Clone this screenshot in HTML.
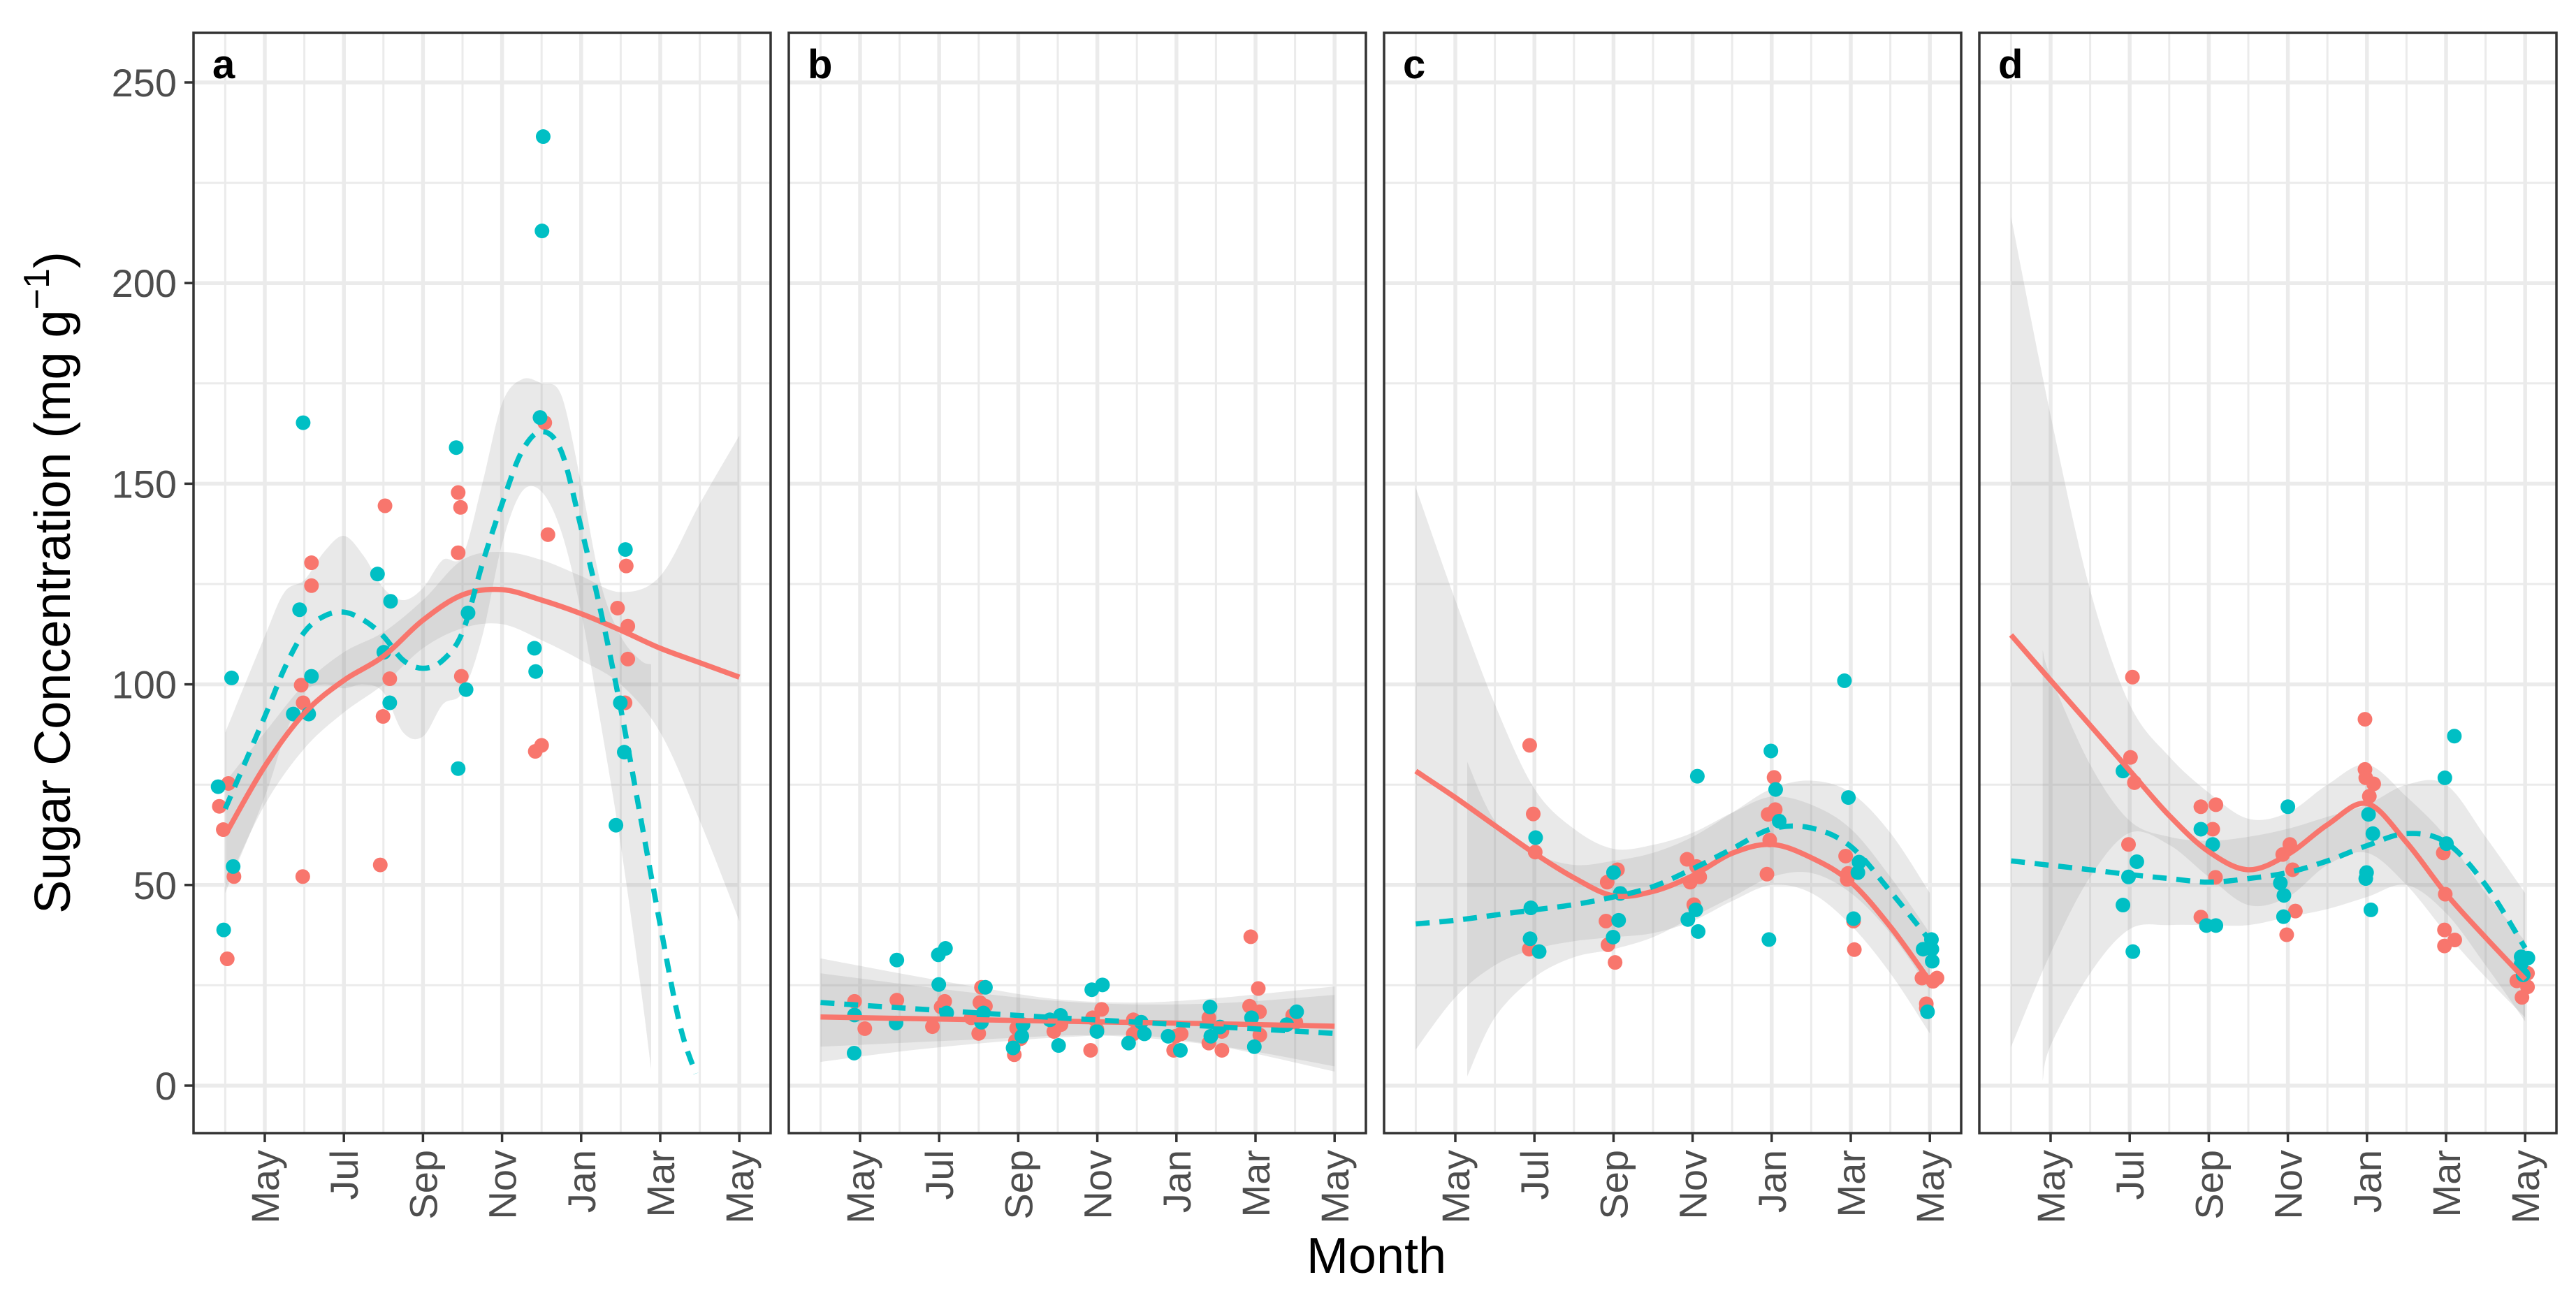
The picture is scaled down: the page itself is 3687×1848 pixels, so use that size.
<!DOCTYPE html>
<html><head><meta charset="utf-8"><title>Sugar Concentration by Month</title>
<style>
html,body{margin:0;padding:0;background:#fff;}
svg{display:block;font-family:"Liberation Sans",Arial,sans-serif;}
</style></head>
<body>
<svg id="chart" width="3687" height="1848" viewBox="0 0 3687 1848" xmlns="http://www.w3.org/2000/svg">
<rect x="0" y="0" width="3687" height="1848" fill="#fff"/>
<text transform="translate(100,834) rotate(-90)" text-anchor="middle" font-size="72" fill="#000">Sugar Concentration (mg g<tspan dy="-30" font-size="52">−1</tspan><tspan dy="30">)</tspan></text>
<text x="1970" y="1822" text-anchor="middle" font-size="72" fill="#000">Month</text>
</svg>
<script>
// ---- shared axes ----
const monthTicks = [0,2,4,6,8,10,12];
const monthTickLabels = ["May","Jul","Sep","Nov","Jan","Mar","May"];
const minorMonths = [-1,1,3,5,7,9,11];
const yTicks = [0,50,100,150,200,250];
const yMinor = [25,75,125,175,225];
const panelLabels = ["a","b","c","d"];

// ---- panel a ----
const aRedX = [-1.15,-1.05,-0.92,-0.95,-0.78,0.92,0.97,1.18,1.18,0.96,2.92,2.99,3.04,3.16,4.89,4.95,4.89,4.97,6.84,7.0,7.08,7.16,8.92,9.14,9.18,9.18,9.11];
const aRedY = [69.6,63.8,75.3,31.6,52.1,99.8,95.4,124.6,130.3,52.1,55,92,144.5,101.4,147.8,144.1,132.8,102,83.3,84.8,165.2,137.3,119,129.5,114.5,106.3,95.4];
const aCyanX = [-1.18,-1.04,-0.84,-0.8,0.72,1.11,0.88,0.97,1.18,2.85,3.01,3.16,3.18,4.84,4.89,5.14,5.09,6.82,6.85,6.96,7.01,7.04,8.88,9.12,9.09,8.99];
const aCyanY = [74.5,38.8,101.6,54.6,92.6,92.6,118.6,165.2,102,127.5,108,95.4,120.7,159,79,117.8,98.7,109,103.2,166.5,213,236.5,64.9,133.6,83.1,95.4];
const aRedFitX = [-0.97,0,1,2,3,4,5,6,7,8,9,10,11,12];
const aRedFitY = [63,79.6,92.8,101,107,116,122.3,123.6,121,117.6,113.5,109,105.4,101.8];
const aRedBandX = [-0.97,0,1,2,3,4,5,6,7,8,9,10,11,12];
const aRedBandHi = [76,88,100,108,113,121,131,133,131,127,123,127,145,162];
const aRedBandLo = [50,70,84,93,100,109,114,115,111,106,100,88,66,41];
const aCyanFitX = [-1,0,0.5,1,1.5,2,2.5,3,3.5,4,4.5,5,5.5,6,6.5,7,7.5,8,8.5,9,9.5,10,10.5,10.9];
const aCyanFitY = [69,92,104,113,117,118,116,112,106,104,106,113,130,145,158,163,158,139,118,94,67,40,15,3];
const aCyanBandX = [-1,0,0.5,1,1.5,2,2.5,3,3.5,4,4.5,5,5.5,6,6.5,7,7.5,8,8.5,9,9.5,9.77];
const aCyanBandHi = [88,112,123,126,133,137,132,124,121,124,131,132,150,170,176,175,172,150,125,112,106,105];
const aCyanBandLo = [48,72,87,98,100,99,100,98,88,87,95,98,112,135,148,148,138,118,90,60,25,4];

// ---- panel b ----
const bRedX = [-0.14,0.12,0.93,1.83,2.05,2.14,3.07,3.03,3.17,2.81,3.0,3.96,3.93,3.9,4.06,4.9,5.08,5.83,5.99,6.11,5.88,6.91,6.91,7.98,7.93,8.12,8.82,8.82,9.15,9.15,9.88,10.07,9.85,10.1,10.11,10.94,11.02];
const bRedY = [21,14.2,21.3,14.7,19.6,21,24.5,20.7,19.8,16.9,13,14.3,11.1,7.7,11.7,13.5,15.2,8.8,14,19,16.9,16.4,12.9,12.3,8.8,12.9,16.9,10.6,13.5,8.8,37.1,24.2,19.8,18.4,12.6,17.5,15.8];
const bCyanX = [-0.14,-0.15,0.93,0.91,1.98,2.16,1.99,2.19,3.17,3.07,3.12,4.12,3.87,4.09,5.07,4.8,5.02,5.86,6.13,5.99,7.11,6.79,7.19,8.1,7.79,8.85,9.1,8.87,9.97,9.9,11.04,10.79];
const bCyanY = [17.6,8.1,31.3,15.6,32.6,34.2,25.2,18.1,24.5,15.8,18.1,15.2,9.4,12.3,17.5,16.4,10,23.9,25.1,13.5,15.8,10.6,12.9,8.8,12.3,19.6,14.6,12.3,9.7,16.9,18.4,15.2];
const bRedFitX = [-1,3,6,9,12];
const bRedFitY = [17.1,16.4,15.9,15.4,14.8];
const bRedBandX = [-1,3,6,9,12];
const bRedBandHi = [28,23,20.5,20.5,22.6];
const bRedBandLo = [9.7,11.5,12.5,10,4.8];
const bCyanFitX = [-1,1,3,5,7,9,12];
const bCyanFitY = [20.7,19.4,18.1,16.9,15.8,14.7,13];
const bCyanBandX = [-1,1,3,5,7,9,12];
const bCyanBandHi = [31.7,28,24.5,21.5,20.7,21.8,24.7];
const bCyanBandLo = [5.9,8.5,10.5,12,12.5,10,3.5];

// ---- panel c ----
const cRedX = [1.88,1.97,2.02,1.87,3.84,4.1,3.81,3.86,4.04,5.86,6.1,5.94,6.18,6.03,8.06,8.09,7.91,7.95,7.88,9.87,9.93,9.91,10.07,10.09,11.8,12.18,12.08,11.91,11.91];
const cRedY = [84.8,67.7,58.2,34,50.7,53.8,41,35.1,30.7,56.4,54.6,50.7,52,45.1,76.8,68.8,67.6,61.2,52.7,57.2,52.9,51.4,41,33.9,26.8,26.8,26,20.4,19.3];
const cCyanX = [2.03,1.91,1.89,2.12,4.0,4.17,4.13,3.99,6.12,6.08,5.88,6.14,7.98,8.1,8.19,7.93,9.84,9.94,10.21,10.18,10.07,12.04,11.83,12.05,12.06,11.94];
const cCyanY = [61.8,44.3,36.6,33.4,53.1,47.9,41.2,37,77.1,43.8,41.4,38.4,83.4,73.8,65.9,36.4,100.9,71.8,55.7,53.1,41.6,36.4,34,34,31,18.4];
const cRedFitX = [-1,0,1,2,3,4,5,6,7,8,9,10,11,12];
const cRedFitY = [78.4,71.8,64.8,57.9,51.8,47.3,48.4,52.3,57.9,60.1,56.8,50.7,39.6,26];
const cRedBandX = [-1,0,1,2,3,4,5,6,7,8,9,10,11,12];
const cRedBandHi = [149,121,95,74,64,59,60,63,68,72,70,64,52,38];
const cRedBandLo = [9,22,30,34,36,37,38,41,46,50,48,40,28,13];
const cCyanFitX = [-1,0,1,2,3,4,5,6,7,8,9,10,11,12];
const cCyanFitY = [40.3,41.2,42.5,43.8,45.1,47,49.6,54,59,64,64.2,59.6,48.4,36.2];
const cCyanBandX = [0.3,1,2,3,4,5,6,7,8,9,10,11,12];
const cCyanBandHi = [80.7,66,58,55,56,58,62,68,74,76,73,63,48];
const cCyanBandLo = [2.3,17,27,32,34,37,42,47,52,53,48,38,24];

// ---- panel d ----
const dRedX = [2.07,2.02,2.12,1.97,3.8,4.18,4.1,4.17,3.8,6.05,5.87,6.12,6.19,5.97,7.95,7.95,7.97,8.17,8.06,9.93,9.98,9.96,10.22,9.96,11.79,12.06,12.06,11.92];
const dRedY = [101.8,81.8,75.5,60.1,69.5,70,63.9,51.9,42,60.1,57.6,53.8,43.5,37.6,91.3,78.8,76.7,75.2,72.1,58,47.7,38.8,36.3,34.8,26.1,28,24.6,22];
const dCyanX = [1.83,2.18,1.97,1.83,2.08,3.8,4.1,3.94,4.18,6.0,5.81,5.9,5.89,8.04,8.15,7.99,7.97,8.1,10.21,9.97,10.01,11.9,12.07,11.9,11.95];
const dCyanY = [78.4,55.8,52,45,33.4,63.9,60.1,39.9,39.9,69.5,50.5,47.4,42.1,67.6,62.8,53.1,51.6,43.8,87.1,76.7,60.3,32.1,31.8,30.3,27.6];
const dRedFitX = [-1,0,1,2,3,4,5,6,7,8,9,10,11,12];
const dRedFitY = [112.3,101,89.8,78.5,67.3,58.3,53.8,57.6,65,70.3,60.6,47.8,36.9,26.5];
const dRedBandX = [-1,0,1,2,3,4,5,6,7,8,9,10,11,12];
const dRedBandHi = [216.5,167,123.5,95,82,73,66.5,68,75,80,72,62,48,36];
const dRedBandLo = [9.6,33,52,63,60,52,45,47,55,58,50,38,27,17];
const dCyanFitX = [-1,0,1,2,3,4,5,6,7,8,9,10,11,12];
const dCyanFitY = [56,54.9,53.8,52.6,51.6,50.7,51.6,53.1,56,59.8,62.8,60.6,50,34.3];
const dCyanBandX = [-0.2,0,1,2,3,4,5,6,7,8,9,10,11,12];
const dCyanBandHi = [108.5,102,80,66,62,61,62,64,67,70,75,75,62,48];
const dCyanBandLo = [1.3,10,28,39,40,40,40,42,44,47,50,43,30,16];

const panels = [
  {red:[aRedX,aRedY],cyan:[aCyanX,aCyanY],rf:[aRedFitX,aRedFitY],cf:[aCyanFitX,aCyanFitY],rb:[aRedBandX,aRedBandHi,aRedBandLo],cb:[aCyanBandX,aCyanBandHi,aCyanBandLo]},
  {red:[bRedX,bRedY],cyan:[bCyanX,bCyanY],rf:[bRedFitX,bRedFitY],cf:[bCyanFitX,bCyanFitY],rb:[bRedBandX,bRedBandHi,bRedBandLo],cb:[bCyanBandX,bCyanBandHi,bCyanBandLo]},
  {red:[cRedX,cRedY],cyan:[cCyanX,cCyanY],rf:[cRedFitX,cRedFitY],cf:[cCyanFitX,cCyanFitY],rb:[cRedBandX,cRedBandHi,cRedBandLo],cb:[cCyanBandX,cCyanBandHi,cCyanBandLo]},
  {red:[dRedX,dRedY],cyan:[dCyanX,dCyanY],rf:[dRedFitX,dRedFitY],cf:[dCyanFitX,dCyanFitY],rb:[dRedBandX,dRedBandHi,dRedBandLo],cb:[dCyanBandX,dCyanBandHi,dCyanBandLo]}
];

const NS = "http://www.w3.org/2000/svg";
const svg = document.getElementById("chart");
const PT = 47, PB = 1622, PW = 826;
const RED = "#F8766D", CYAN = "#00BFC4";
function panelLeft(i){ return 277 + i*852; }
function xScale(i, m){ return panelLeft(i) + 102 + m*56.6; }
function yScale(v){ return 1554 - v*5.744; }
function mk(tag, attrs, parent){
  const e = document.createElementNS(NS, tag);
  for (const k in attrs) e.setAttribute(k, attrs[k]);
  (parent||svg).appendChild(e);
  return e;
}
function smoothPath(pts, move){
  let d = (move ? "M" : "L") + pts[0][0].toFixed(1) + "," + pts[0][1].toFixed(1);
  for (let i=0;i<pts.length-1;i++){
    const p0 = pts[Math.max(0,i-1)], p1 = pts[i], p2 = pts[i+1], p3 = pts[Math.min(pts.length-1,i+2)];
    const c1x = p1[0]+(p2[0]-p0[0])/6, c1y = p1[1]+(p2[1]-p0[1])/6;
    const c2x = p2[0]-(p3[0]-p1[0])/6, c2y = p2[1]-(p3[1]-p1[1])/6;
    d += " C"+c1x.toFixed(1)+","+c1y.toFixed(1)+" "+c2x.toFixed(1)+","+c2y.toFixed(1)+" "+p2[0].toFixed(1)+","+p2[1].toFixed(1);
  }
  return d;
}

panels.forEach((p, i) => {
  const L = panelLeft(i);
  const g = mk("g", {});
  
  
  const clipId = "clip" + i;
  const cp = mk("clipPath", {id: clipId}, g);
  mk("rect", {x: L, y: PT, width: PW, height: PB-PT}, cp);
  // grid minor
  yMinor.forEach(v => {
    const ln = mk("line", {x1:L, x2:L+PW, y1:yScale(v), y2:yScale(v), stroke:"#EBEBEB", "stroke-width":3}, g);
    
    
  });
  minorMonths.forEach(m => {
    const ln = mk("line", {x1:xScale(i,m), x2:xScale(i,m), y1:PT, y2:PB, stroke:"#EBEBEB", "stroke-width":3}, g);
    
    
  });
  yTicks.forEach(v => {
    const ln = mk("line", {x1:L, x2:L+PW, y1:yScale(v), y2:yScale(v), stroke:"#EBEBEB", "stroke-width":5.5}, g);
    
    
  });
  monthTicks.forEach(m => {
    const ln = mk("line", {x1:xScale(i,m), x2:xScale(i,m), y1:PT, y2:PB, stroke:"#EBEBEB", "stroke-width":5.5}, g);
    
    
  });
  const inner = mk("g", {"clip-path": "url(#"+clipId+")"}, g);
  // bands
  [["rb","red"],["cb","cyan"]].forEach(([k,nm]) => {
    const [bx, hi, lo] = p[k];
    const up = bx.map((m,j)=>[xScale(i,m), yScale(hi[j])]);
    const dn = bx.map((m,j)=>[xScale(i,m), yScale(lo[j])]).reverse();
    const d = smoothPath(up, true) + " L" + dn[0][0].toFixed(1)+","+dn[0][1].toFixed(1) + smoothPath(dn, false).replace(/^L[^ C]*/, "") + " Z";
    const band = mk("path", {d: d, fill:"#999999", "fill-opacity":0.22, stroke:"none"}, inner);
    
    
  });
  // points
  [["red",RED],["cyan",CYAN]].forEach(([k,col]) => {
    const [xs, ys] = p[k];
    xs.forEach((m,j) => {
      const c = mk("circle", {cx:xScale(i,m), cy:yScale(ys[j]), r:10.5, fill:col}, inner);
      
      
    });
  });
  // fits
  const rp = p.rf[0].map((m,j)=>[xScale(i,m), yScale(p.rf[1][j])]);
  const rl = mk("path", {d: smoothPath(rp, true), fill:"none", stroke:RED, "stroke-width":7.5, "stroke-linecap":"butt"}, inner);
  
  
  const cpts = p.cf[0].map((m,j)=>[xScale(i,m), yScale(p.cf[1][j])]);
  const cl = mk("path", {d: smoothPath(cpts, true), fill:"none", stroke:CYAN, "stroke-width":7.5, "stroke-dasharray":"20 14"}, inner);
  
  
  // border
  const br = mk("rect", {x:L, y:PT, width:PW, height:PB-PT, fill:"none", stroke:"#333333", "stroke-width":3.5}, g);
  
  
  // label
  const lb = mk("text", {x:L+27, y:PT+65, "font-size":58, "font-weight":"bold", fill:"#000"}, g);
  lb.textContent = panelLabels[i];
  
  
  // x ticks
  monthTicks.forEach((m,j) => {
    const x = xScale(i,m);
    const tk = mk("line", {x1:x, x2:x, y1:PB, y2:PB+13, stroke:"#333333", "stroke-width":3.5}, g);
    
    
    const t = mk("text", {transform:"translate("+(x+20)+","+(PB+24)+") rotate(-90)", "text-anchor":"end", "font-size":56, fill:"#4D4D4D"}, g);
    t.textContent = monthTickLabels[j];
    
    
  });
  if (i === 0) {
    yTicks.forEach(v => {
      const y = yScale(v);
      const tk = mk("line", {x1:L-13, x2:L, y1:y, y2:y, stroke:"#333333", "stroke-width":3.5}, g);
      
      
      const t = mk("text", {x:L-24, y:y+20, "text-anchor":"end", "font-size":56, fill:"#4D4D4D"}, g);
      t.textContent = String(v);
      
      
    });
  }
});
</script>
</body></html>
